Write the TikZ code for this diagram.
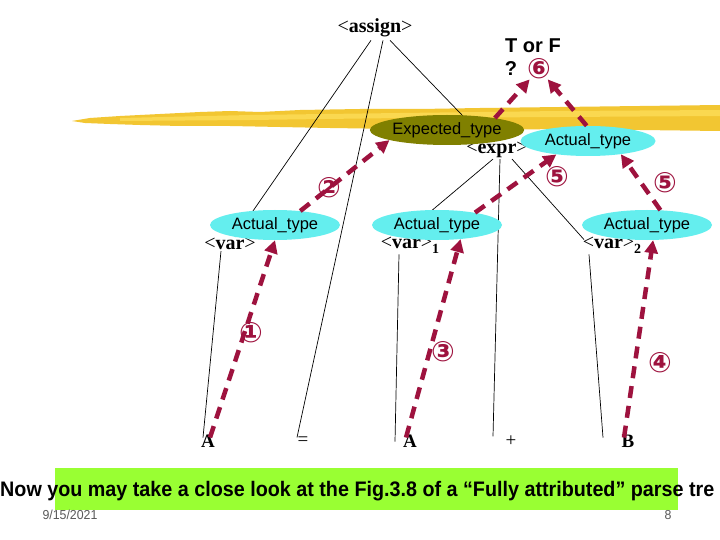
\documentclass[tikz,border=0pt]{standalone}
\usepackage{fontspec}
\setmainfont{Liberation Sans}
\newfontfamily\tms{Liberation Serif}
\newfontfamily\dvs{DejaVu Sans}
\usetikzlibrary{shapes.geometric,arrows.meta}
\definecolor{ared}{RGB}{158,18,62}
\definecolor{acyan}{RGB}{100,238,238}
\definecolor{aolive}{RGB}{128,128,0}
\definecolor{agold}{RGB}{242,198,50}
\definecolor{agold2}{RGB}{250,216,80}
\definecolor{agreen}{RGB}{153,255,51}
\begin{document}
\begin{tikzpicture}[x=1pt,y=-1pt,
  tedge/.style={draw=black,line width=0.7pt},
  ra/.style={draw=ared,line width=4.5pt,dash pattern=on 12pt off 8pt,-{Triangle[length=13pt,width=13pt]}},
  ell/.style={ellipse,minimum width=130pt,minimum height=30pt,inner sep=0pt,font=\fontsize{16.5}{18}\selectfont},
  actt/.style={ell,fill=acyan},
  lab/.style={inner sep=1pt,font=\tms\fontsize{20}{22}\selectfont},
  leaf/.style={inner sep=1pt,font=\tms\fontsize{19}{21}\selectfont},
  num/.style={inner sep=0pt,text=ared,font=\dvs\bfseries\fontsize{28}{30}\selectfont},
  tf/.style={inner sep=0pt,font=\bfseries\fontsize{20}{22}\selectfont}]
\useasboundingbox (0,0) rectangle (720,540);
\clip (0,0) rectangle (720,540);
\fill[white] (0,0) rectangle (720,540);
% yellow brush band
\fill[agold] (72,121) -- (90,118) -- (120,116) -- (160,114) -- (200,112) -- (230,111) -- (260,112)
  -- (300,110) -- (360,109) -- (420,109) -- (480,108) -- (560,107) -- (640,106) -- (720,105)
  -- (720,131) -- (640,130) -- (560,129) -- (480,130) -- (400,129) -- (330,128) -- (280,127)
  -- (230,126) -- (180,126) -- (140,125) -- (110,124) -- (85,123) -- cycle;
\fill[agold2] (120,118) -- (250,115) -- (400,113) -- (560,111) -- (720,110) -- (720,116)
  -- (560,117) -- (400,118) -- (250,120) -- (120,121) -- cycle;
% labels
\node[lab] (assign) at (375,28) {<\textbf{assign}>};
\node[lab] (expr) at (497,150) {<\textbf{expr}>};
\node[lab] (var0) at (230,244) {<\textbf{var}>};
\node[lab] (var1) at (410,245) {<\textbf{var}>\raisebox{-5pt}{\fontsize{14}{14}\selectfont\textbf{1}}};
\node[lab] (var2) at (612,245) {<\textbf{var}>\raisebox{-5pt}{\fontsize{14}{14}\selectfont\textbf{2}}};
\node[leaf] (A1) at (208,441) {\textbf{A}};
\node[leaf] (eq) at (303,441) {=};
\node[leaf] (A2) at (410,441) {\textbf{A}};
\node[leaf] (plus) at (511,441) {+};
\node[leaf] (B) at (628,441) {\textbf{B}};
% tree edges
\draw[tedge] ([xshift=-4pt,yshift=-2pt]assign.south) -- ([xshift=5pt]var0.north);
\draw[tedge] ([xshift=8pt,yshift=-2pt]assign.south) -- ([xshift=-6pt,yshift=-2pt]eq.north);
\draw[tedge] ([xshift=15pt,yshift=-2pt]assign.south) -- ([xshift=-10pt]expr.north);
\draw[tedge] ([xshift=-4pt]expr.south) -- ([xshift=-8pt]var1.north);
\draw[tedge] ([xshift=3pt]expr.south) -- ([xshift=-18pt,yshift=-2pt]plus.north);
\draw[tedge] ([xshift=15pt]expr.south) -- ([xshift=-28pt,yshift=-4pt]var2.north);
\draw[tedge] ([xshift=-9pt]var0.south) -- ([xshift=-5pt,yshift=-4pt]A1.north);
\draw[tedge] ([xshift=-11pt]var1.south) -- ([xshift=-15pt,yshift=-8pt]A2.north);
\draw[tedge] ([xshift=-23pt]var2.south) -- ([xshift=-25pt,yshift=-4pt]B.north);
% ellipses
\node[ell,fill=aolive,minimum width=125pt] (expt) at (447,130) {Expected\_type};
\node[actt,minimum width=135pt] (acte) at (588,141) {Actual\_type};
\node[actt] (act0) at (275,225) {Actual\_type};
\node[actt] (act1) at (437,225) {Actual\_type};
\node[actt] (act2) at (647,225) {Actual\_type};
% T or F
\node[tf] (tf) at (533,46) {T or F};
\node[tf] (q) at (511,69) {?};
\node[num] (c6) at (539,69) {⑥};
% circled numbers
\node[num] (c1) at (251,333) {①};
\node[num] (c2) at (329,188) {②};
\node[num] (c3) at (443,352) {③};
\node[num] (c4) at (660,363) {④};
\node[num] (c5a) at (557,177) {⑤};
\node[num] (c5b) at (665,183) {⑤};
% red dashed arrows
\draw[ra] ([xshift=2pt,yshift=-4pt]A1.north) -- (act0.south);
\draw[ra] (act0.29) -- (expt.190);
\draw[ra] ([xshift=-4pt,yshift=-4pt]A2.north) -- (act1.-31);
\draw[ra] ([xshift=-4pt,yshift=-4pt]B.north) -- (act2.-68);
\draw[ra] (act1.18) -- (acte.203);
\draw[ra] (act2.48) -- (acte.-22);
\draw[ra] (expt.14) -- (c6);
\draw[ra] (acte.95) -- (c6);
% bottom banner
\fill[agreen] (55,468) rectangle (678,510);
\node[anchor=base west,inner sep=0pt,font=\bfseries\fontsize{21}{23}\selectfont] (banner) at (0,496)
  {\scalebox{0.94}[1]{Now you may take a close look at the Fig.3.8 of a “Fully attributed” parse tre}};
\node[inner sep=0pt,text=black!65,font=\fontsize{13}{14}\selectfont] (date) at (70,515) {\scalebox{0.95}[1]{9/15/2021}};
\node[inner sep=0pt,text=black!65,font=\fontsize{13}{14}\selectfont] (page) at (668,515) {\scalebox{0.95}[1]{8}};
\end{tikzpicture}
\end{document}
